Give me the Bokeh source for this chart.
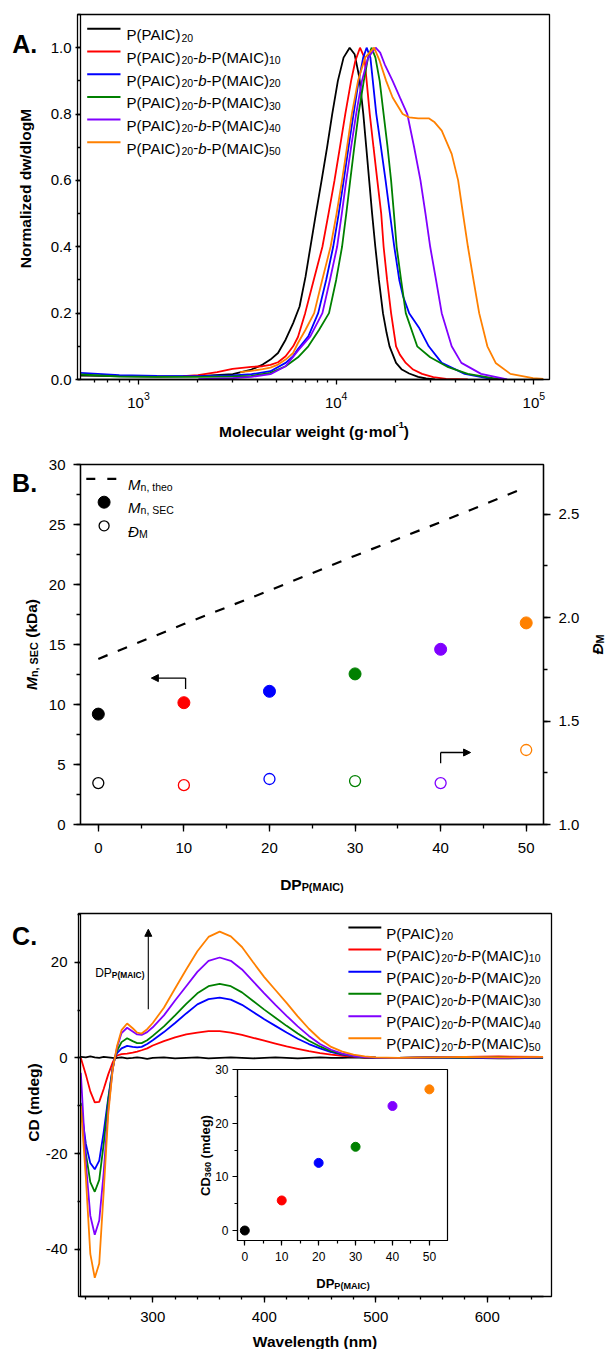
import math
from bokeh.plotting import figure
from bokeh.layouts import column
from bokeh.models import (Label, Arrow, NormalHead, BoxAnnotation, FixedTicker,
                          SingleIntervalTicker, LinearAxis, Range1d, PrintfTickFormatter)
from bokeh.embed import file_html
from bokeh.resources import INLINE

FONT = "Liberation Sans"

# ---------------- data ----------------
series_colors = ["#000000", "#FF0000", "#0000FF", "#008000", "#8000FF", "#FF8000"]
maic_dp = [0, 10, 20, 30, 40, 50]

# Panel A: SEC traces (molecular weight, normalized dw/dlogM)
sec_m_0 = [509, 800, 1240, 2000, 3000, 3730, 4250, 4650, 5080, 5550, 6060, 6530, 7000, 7410, 7900, 8440, 9000,
           9550, 10200, 10900, 11700, 12400, 13100, 13720, 14200, 14690, 15200, 15780, 16450, 17250, 18000,
           18620, 20090, 21500, 23400, 26000, 28500, 31700]
sec_w_0 = [0.012, 0.010, 0.009, 0.010, 0.016, 0.030, 0.045, 0.06, 0.08, 0.12, 0.17, 0.22, 0.31, 0.40, 0.50,
           0.60, 0.70, 0.80, 0.90, 0.97, 1.0, 0.98, 0.91, 0.80, 0.70, 0.60, 0.50, 0.40, 0.30, 0.20, 0.14, 0.10,
           0.05, 0.03, 0.018, 0.008, 0.003, 0.0]
sec_m_10 = [1680, 2000, 2500, 2990, 3730, 4250, 4650, 5080, 5550, 6060, 6410, 6970, 7700, 8520, 9150, 9810,
            10450, 11120, 11900, 12500, 13200, 13900, 14790, 15450, 16150, 16900, 17380, 18100, 18960, 20090,
            21000, 22500, 24500, 27200, 31000, 36000, 46300]
sec_w_10 = [0.010, 0.013, 0.022, 0.032, 0.038, 0.040, 0.044, 0.052, 0.07, 0.10, 0.128, 0.20, 0.30, 0.40, 0.50,
            0.60, 0.70, 0.80, 0.90, 0.96, 1.0, 0.97, 0.80, 0.70, 0.60, 0.50, 0.40, 0.30, 0.20, 0.10, 0.075, 0.05,
            0.03, 0.017, 0.007, 0.002, 0.0]
sec_m_20 = [509, 800, 1240, 2000, 3000, 3730, 4650, 5550, 6060, 6410, 7230, 8110, 8900, 9660, 10300, 10920,
            11550, 12240, 13000, 13700, 14260, 14900, 15960, 16850, 17780, 18700, 19680, 20860, 21820, 23400,
            26200, 29400, 34200, 44700, 63000]
sec_w_20 = [0.020, 0.013, 0.011, 0.010, 0.012, 0.016, 0.025, 0.05, 0.07, 0.092, 0.13, 0.20, 0.30, 0.40, 0.50,
            0.60, 0.70, 0.80, 0.90, 0.97, 1.0, 0.97, 0.80, 0.70, 0.60, 0.50, 0.40, 0.30, 0.25, 0.20, 0.157,
            0.10, 0.05, 0.017, 0.0]
sec_m_30 = [509, 800, 1240, 2000, 3000, 3730, 4650, 5550, 6410, 7230, 8200, 9200, 10000, 10710, 11250, 11780,
            12350, 12970, 13800, 14500, 15100, 15800, 16600, 17380, 18200, 18960, 19600, 20230, 21300, 22500,
            25700, 29900, 36900, 46300, 67900]
sec_w_30 = [0.015, 0.009, 0.008, 0.008, 0.009, 0.011, 0.02, 0.04, 0.067, 0.10, 0.15, 0.20, 0.30, 0.40, 0.50,
            0.60, 0.70, 0.80, 0.90, 0.97, 1.0, 0.97, 0.90, 0.80, 0.70, 0.60, 0.50, 0.40, 0.30, 0.20, 0.10,
            0.067, 0.037, 0.017, 0.0]
sec_m_40 = [2010, 3000, 3730, 4650, 5550, 6410, 7400, 8520, 9300, 10110, 10680, 11250, 11900, 12620, 13500,
            14500, 15840, 16700, 17600, 19300, 21000, 22900, 24800, 26700, 28300, 29900, 32000, 34200, 38400,
            43000, 54100, 73300]
sec_w_40 = [0.001, 0.004, 0.008, 0.016, 0.04, 0.087, 0.13, 0.20, 0.30, 0.40, 0.50, 0.60, 0.70, 0.80, 0.90,
            0.97, 1.0, 0.985, 0.95, 0.90, 0.85, 0.80, 0.70, 0.60, 0.50, 0.40, 0.30, 0.20, 0.10, 0.05, 0.017, 0.0]
sec_m_50 = [3270, 3730, 4250, 4650, 5080, 5550, 6060, 6410, 7000, 7740, 8500, 9370, 10050, 10710, 11350, 12000,
            12900, 14000, 15560, 16600, 17900, 19300, 21700, 23400, 26000, 29400, 31500, 34200, 38400, 41400,
            43800, 46400, 49500, 52900, 58200, 64100, 76100, 99000, 111900]
sec_w_50 = [0.022, 0.026, 0.031, 0.036, 0.045, 0.06, 0.08, 0.11, 0.15, 0.20, 0.30, 0.40, 0.50, 0.60, 0.70,
            0.80, 0.90, 0.97, 1.0, 0.96, 0.90, 0.85, 0.80, 0.79, 0.787, 0.787, 0.775, 0.75, 0.68, 0.60, 0.50,
            0.40, 0.30, 0.20, 0.10, 0.05, 0.017, 0.004, 0.002]
sec_m = [sec_m_0, sec_m_10, sec_m_20, sec_m_30, sec_m_40, sec_m_50]
sec_w = [sec_w_0, sec_w_10, sec_w_20, sec_w_30, sec_w_40, sec_w_50]

# Panel B
mn_theo = [13.8, 16.7, 19.5, 22.4, 25.2, 28.1]
mn_sec = [9.2, 10.15, 11.1, 12.55, 14.6, 16.8]
dispersity = [1.20, 1.19, 1.22, 1.21, 1.20, 1.36]

# Panel C: CD spectra
wavelength = [235.5, 240, 244, 248, 252, 256, 260, 264, 266, 268, 272, 277, 282, 286, 290, 295, 300, 310, 320,
              330, 340, 350, 360, 370, 380, 390, 400, 410, 420, 430, 440, 450, 460, 470, 480, 490, 500, 520,
              550, 580, 610, 650]
cd_0 = [0.2, 0.1, 0.3, 0.1, 0.0, 0.2, 0.1, 0.0, -0.1, 0.0, 0.1, -0.1, 0.0, 0.1, 0.0, -0.2, 0.0, 0.1, -0.1, 0.0,
        0.1, -0.1, 0.0, 0.1, 0.0, -0.1, 0.0, 0.1, 0.0, -0.1, 0.0, 0.1, 0.0, 0.0, 0.1, 0.0, 0.0, 0.0, 0.1, 0.0,
        -0.1, 0.0]
cd_10 = [0.0, -3.5, -7.0, -9.3, -9.2, -6.5, -3.5, -1.0, 0.0, 0.5, 0.8, 0.9, 1.1, 1.3, 1.6, 2.0, 2.6, 3.5, 4.3,
         4.9, 5.3, 5.6, 5.6, 5.3, 4.8, 4.2, 3.6, 3.0, 2.4, 1.9, 1.4, 1.0, 0.7, 0.45, 0.25, 0.1, 0.05, 0.0, 0.1,
         0.2, 0.3, 0.2]
cd_20 = [-10.0, -18.0, -22.0, -23.3, -21.5, -15.5, -8.5, -2.2, 0.0, 1.0, 2.0, 2.5, 2.3, 2.2, 2.3, 2.9, 3.7, 5.4,
         7.3, 9.3, 11.2, 12.3, 12.6, 12.2, 11.1, 9.6, 8.1, 6.7, 5.3, 4.0, 2.9, 2.0, 1.2, 0.7, 0.35, 0.15, 0.05,
         0.0, 0.0, 0.1, 0.0, 0.0]
cd_30 = [-9.4, -20.0, -26.0, -28.0, -25.5, -18.0, -9.0, -2.3, 0.0, 1.5, 3.3, 4.1, 3.5, 3.1, 3.1, 3.7, 4.6, 6.6,
         8.9, 11.3, 13.5, 15.0, 15.5, 15.0, 13.7, 11.9, 10.1, 8.4, 6.7, 5.1, 3.6, 2.4, 1.4, 0.8, 0.4, 0.15, 0.05,
         0.0, 0.1, 0.0, 0.1, 0.0]
cd_40 = [-3.1, -22.0, -33.0, -37.0, -34.0, -24.0, -11.0, -2.5, 0.0, 2.2, 5.2, 6.3, 5.5, 4.9, 4.8, 5.4, 6.4, 8.9,
         12.0, 15.0, 18.0, 20.3, 21.0, 20.3, 18.5, 16.0, 13.5, 11.1, 8.8, 6.6, 4.6, 2.9, 1.7, 0.9, 0.4, 0.15,
         0.05, 0.0, 0.1, 0.1, 0.0, 0.1]
cd_50 = [-10.0, -25.0, -41.0, -46.0, -43.0, -28.0, -12.0, -2.5, 0.0, 2.5, 5.8, 7.2, 6.2, 5.3, 5.1, 6.0, 7.3, 10.5,
         14.5, 18.5, 22.3, 25.3, 26.4, 25.4, 23.2, 20.0, 16.9, 14.2, 11.5, 8.7, 6.1, 3.9, 2.3, 1.3, 0.7, 0.3,
         0.1, 0.0, 0.1, 0.2, 0.1, 0.2]
cd_series = [cd_0, cd_10, cd_20, cd_30, cd_40, cd_50]

# Inset
cd_360 = [0.0, 5.6, 12.6, 15.6, 23.2, 26.3]

legend_dp = ["20", "10", "20", "30", "40", "50"]

# ---------------- text metrics (Arial / Liberation Sans) ----------------
REG = {' ': 278, '(': 333, ')': 333, ',': 278, '-': 333, '.': 278, '/': 278, '\u00b7': 278,
       'A': 667, 'B': 667, 'C': 722, 'D': 722, 'E': 667, 'I': 278, 'L': 556, 'M': 833, 'N': 722,
       'P': 667, 'S': 667, 'W': 944, '\u0110': 722,
       'a': 556, 'b': 556, 'c': 500, 'd': 556, 'e': 556, 'g': 556, 'h': 556, 'i': 222, 'k': 500,
       'l': 222, 'm': 833, 'n': 556, 'o': 556, 'r': 333, 't': 278, 'u': 556, 'w': 722, 'z': 500, 'y': 500}
BOLD = {' ': 278, '(': 333, ')': 333, ',': 278, '-': 333, '.': 278, '/': 278, '\u00b7': 278,
        'A': 722, 'B': 722, 'C': 722, 'D': 722, 'E': 667, 'I': 278, 'L': 611, 'M': 833, 'N': 722,
        'P': 667, 'S': 667, 'W': 944, '\u0110': 722,
        'a': 556, 'b': 611, 'c': 556, 'd': 611, 'e': 556, 'g': 611, 'h': 611, 'i': 278, 'k': 556,
        'l': 278, 'm': 889, 'n': 611, 'o': 611, 'r': 389, 't': 333, 'u': 611, 'w': 778, 'z': 500, 'y': 556}


def tw(s, size, bold):
    tab = BOLD if bold else REG
    return sum(tab.get(ch, 556) for ch in s) * size / 1000.0


# ---------------- figures ----------------
def base_fig(w, h, bl, br, bt, bb, **kw):
    p = figure(width=w, height=h, min_border_left=bl, min_border_right=br, min_border_top=bt,
               min_border_bottom=bb, output_backend="svg", toolbar_location=None, title=None, **kw)
    p.xgrid.visible = False
    p.ygrid.visible = False
    p.outline_line_color = None
    p.background_fill_color = "white"
    p.border_fill_color = "white"
    return p


def style_axis(ax, tick, minor, standoff, size="15px", lw=1.3):
    ax.major_tick_in = 0
    ax.major_tick_out = int(tick)
    ax.minor_tick_in = 0
    ax.minor_tick_out = int(minor)
    ax.major_label_standoff = int(standoff)
    ax.major_label_text_font = FONT
    ax.major_label_text_font_size = size
    ax.major_label_text_color = "black"
    ax.axis_line_color = "black"
    ax.major_tick_line_color = "black"
    ax.minor_tick_line_color = "black"
    ax.axis_line_width = lw
    ax.major_tick_line_width = lw
    ax.minor_tick_line_width = lw


PW = 606

# Panel A  (page frame x 77-549, y 14-379)
pA = base_fig(PW, 445, 77, 57, 14, 66, x_axis_type="log", x_range=(509, 111900), y_range=(0, 1.1))
for m, wv, c in zip(sec_m, sec_w, series_colors):
    pA.line(m, wv, line_color=c, line_width=1.8)
pA.xaxis.ticker = FixedTicker(ticks=[1e3, 1e4, 1e5],
                              minor_ticks=[k * 10 ** e for e in (2, 3, 4) for k in range(2, 10)])
pA.yaxis.ticker = SingleIntervalTicker(interval=0.2, num_minor_ticks=2)
pA.yaxis.formatter = PrintfTickFormatter(format="%.1f")
style_axis(pA.xaxis[0], 5, 3, 7)
style_axis(pA.yaxis[0], 5, 3, 4)

# Panel B  (page frame x 80-543, y 464-824)
pB = base_fig(PW, 455, 80, 63, 19, 76, x_range=(-2.08, 52.02), y_range=(0, 30))
pB.extra_y_ranges = {"disp": Range1d(1.0, 2.74)}
axR = LinearAxis(y_range_name="disp")
pB.add_layout(axR, "right")
pB.line(maic_dp, mn_theo, line_color="black", line_width=2.2, line_dash="10 11")
pB.scatter(maic_dp, mn_sec, size=12, marker="circle", fill_color=series_colors, line_color=series_colors)
pB.scatter(maic_dp, dispersity, y_range_name="disp", size=11, marker="circle", fill_color=None,
           line_color=series_colors, line_width=1.3)
pB.xaxis.ticker = SingleIntervalTicker(interval=10, num_minor_ticks=2)
pB.yaxis[0].ticker = SingleIntervalTicker(interval=5, num_minor_ticks=2)
axR.ticker = SingleIntervalTicker(interval=0.5, num_minor_ticks=2)
axR.formatter = PrintfTickFormatter(format="%.1f")
pB.yaxis[0].formatter = PrintfTickFormatter(format="%d")
pB.xaxis.formatter = PrintfTickFormatter(format="%d")
style_axis(pB.xaxis[0], 7, 4, 11)
style_axis(pB.yaxis[0], 7, 4, 8)
style_axis(axR, 7, 4, 8)
pB.add_layout(Arrow(end=None, x_start=10.2, y_start=11.3, x_end=10.2, y_end=12.2, line_width=1.3))
pB.add_layout(Arrow(end=NormalHead(size=7, fill_color="black", line_color="black", line_width=1),
                    x_start=10.2, y_start=12.2, x_end=6.2, y_end=12.2, line_width=1.3))
pB.add_layout(Arrow(end=None, x_start=40, y_start=5.1, x_end=40, y_end=6.0, line_width=1.3))
pB.add_layout(Arrow(end=NormalHead(size=7, fill_color="black", line_color="black", line_width=1),
                    x_start=40, y_start=6.0, x_end=43.5, y_end=6.0, line_width=1.3))

# Panel C  (page frame x 78-551, y 913-1296)
pC = base_fig(PW, 449, 78, 55, 13, 53, x_range=(235.2, 650.4), y_range=(-49.9, 30.2))
for cd, c in zip(cd_series, series_colors):
    pC.line(wavelength, cd, line_color=c, line_width=1.8)
pC.xaxis.ticker = SingleIntervalTicker(interval=100, num_minor_ticks=5)
pC.yaxis.ticker = SingleIntervalTicker(interval=20, num_minor_ticks=2)
pC.xaxis.formatter = PrintfTickFormatter(format="%d")
pC.yaxis.formatter = PrintfTickFormatter(format="%d")
style_axis(pC.xaxis[0], 6, 3, 9)
style_axis(pC.yaxis[0], 6, 3, 7)
pC.add_layout(Arrow(end=NormalHead(size=7, fill_color="black", line_color="black", line_width=1),
                    x_start=296, y_start=10.2, x_end=296, y_end=26.9, line_width=1.1))

# Inset (page frame x 237-447, y 1069-1240)
pI = base_fig(268, 224, 52, 6, 9, 44, x_range=(-1.98, 54.9), y_range=(-1.86, 30),
              styles={"position": "absolute", "left": "185px", "top": "1060px"})
pI.background_fill_alpha = 0.0
pI.border_fill_alpha = 0.0
pI.scatter(maic_dp, cd_360, size=9, marker="circle", fill_color=series_colors, line_color=series_colors)
pI.xaxis.ticker = SingleIntervalTicker(interval=10, num_minor_ticks=2)
pI.yaxis.ticker = SingleIntervalTicker(interval=10, num_minor_ticks=2)
pI.xaxis.formatter = PrintfTickFormatter(format="%d")
pI.yaxis.formatter = PrintfTickFormatter(format="%d")
style_axis(pI.xaxis[0], 5, 3, 6, size="12px", lw=1.2)
style_axis(pI.yaxis[0], 5, 3, 4, size="12px", lw=1.2)

# ---------------- page overlay for titles, legends and frames ----------------
ov = figure(width=PW, height=1349, x_range=Range1d(0, PW), y_range=Range1d(1349, 0),
            min_border=0, output_backend="svg", toolbar_location=None, title=None,
            x_axis_location=None, y_axis_location=None,
            styles={"position": "absolute", "left": "0px", "top": "0px"})
ov.xgrid.visible = False
ov.ygrid.visible = False
ov.outline_line_color = None
ov.background_fill_color = None
ov.border_fill_color = None


def lab(X, Y, text, size, bold=False, italic=False, angle=0.0):
    style = "bold italic" if (bold and italic) else ("bold" if bold else ("italic" if italic else "normal"))
    ov.add_layout(Label(x=X, y=Y, text=text, angle=angle, text_font=FONT,
                        text_font_size="%.1fpx" % size, text_font_style=style, text_align="left",
                        text_baseline="alphabetic", text_color="black"))


def rich(X, Y, parts, size, align="left", rotate=False):
    items = []
    for t, st in parts:
        b = 'b' in st
        it = 'i' in st
        if 's' in st:
            sz, dy = size * 0.7, 0.19 * size
        elif 'p' in st:
            sz, dy = size * 0.6, -0.40 * size
        else:
            sz, dy = size, 0.0
        items.append((t, b, it, sz, dy, tw(t, sz, b)))
    W = sum(i[5] for i in items)
    pos = {"left": 0.0, "center": -W / 2.0, "right": -W}[align]
    for t, b, it, sz, dy, w in items:
        stripped = t.lstrip(' ')
        lead = tw(t[:len(t) - len(stripped)], sz, b)
        if rotate:
            lab(X + dy, Y - (pos + lead), stripped, sz, b, it, angle=math.pi / 2)
        else:
            lab(X + pos + lead, Y + dy, stripped, sz, b, it)
        pos += w


def swatch(X0, X1, Y, color, width=2.0, dash="solid"):
    ov.add_layout(Arrow(end=None, x_start=X0, y_start=Y, x_end=X1, y_end=Y,
                        line_color=color, line_width=width, line_dash=dash))


def dot(X, Y, r, filled):
    ov.add_layout(BoxAnnotation(left=X - r, right=X + r, top=Y - r, bottom=Y + r, border_radius=int(r),
                                fill_color="black", fill_alpha=1.0 if filled else 0.0,
                                line_color="black", line_alpha=1.0, line_width=1.0 if filled else 1.3))


def frame_box(l, r, t, b, lw=1.3):
    ov.add_layout(BoxAnnotation(left=l, right=r, top=t, bottom=b, fill_alpha=0.0,
                                line_color="black", line_width=lw, line_alpha=1.0))


def legend_parts(i):
    if i == 0:
        return [("P(PAIC)", ""), ("20", "s")]
    return [("P(PAIC)", ""), ("20", "s"), ("-", ""), ("b", "i"), ("-P(MAIC)", ""), (legend_dp[i], "s")]


frame_box(77, 549, 14, 379)
frame_box(80, 543, 464, 824)
frame_box(78, 551, 913, 1296)
frame_box(237, 447, 1069, 1240, lw=1.2)

# Panel A texts
lab(11.7, 43.3, "A.", 25, bold=True)
rich(25.0, 188, [("Normalized dw/dlogM", "b")], 15.5, align="center", rotate=True)
rich(313.5, 431, [("Molecular weight (g\u00b7mol", "b"), ("-1", "bp"), (")", "b")], 15.5, align="center")
rowsA = [28.3, 51.0, 73.7, 96.4, 119.1, 141.8]
for i, y in enumerate(rowsA):
    swatch(86.7, 120, y, series_colors[i])
    rich(126, y + 6, legend_parts(i), 15)

# Panel B texts
lab(11.6, 482, "B.", 25, bold=True)
swatch(85.8, 116, 478.3, "black", width=2.2, dash="9 12")
rich(127.6, 483.6, [("M", "i"), ("n, theo", "s")], 15)
dot(103.6, 501.7, 6, True)
dot(103.6, 525.3, 5, False)
rich(127.6, 507.0, [("M", "i"), ("n, SEC", "s")], 15)
rich(127.6, 530.6, [("\u0110", "i"), ("M", "s")], 15)
rich(31.0, 644, [("M", "bi"), ("n, SEC", "bs"), (" (kDa)", "b")], 15.5, align="center", rotate=True)
rich(597.0, 644, [("\u0110", "bi"), ("M", "bs")], 15.5, align="center", rotate=True)
rich(311.5, 884, [("DP", "b"), ("P(MAIC)", "bs")], 15.5, align="center")

# Panel C texts
lab(11.6, 935, "C.", 25, bold=True)
rich(94.7, 972.7, [("DP", ""), ("P(MAIC)", "bs")], 12)
rowsC = [927.0, 949.0, 971.3, 993.3, 1015.7, 1037.7]
for i, y in enumerate(rowsC):
    swatch(347.9, 380.8, y, series_colors[i])
    rich(385.8, y + 5.7, legend_parts(i), 15)
rich(33.0, 1102, [("CD (mdeg)", "b")], 15.5, align="center", rotate=True)
rich(314.8, 1341, [("Wavelength (nm)", "b")], 15.5, align="center")

# Inset texts
rich(205.0, 1155, [("CD", "b"), ("360", "bs"), (" (mdeg)", "b")], 13, align="center", rotate=True)
rich(342.5, 1282.7, [("DP", "b"), ("P(MAIC)", "bs")], 13, align="center")

layout = column(pA, pB, pC)
open("out.html", "w").write(file_html([layout, pI, ov], INLINE, title="SEC and CD"))
